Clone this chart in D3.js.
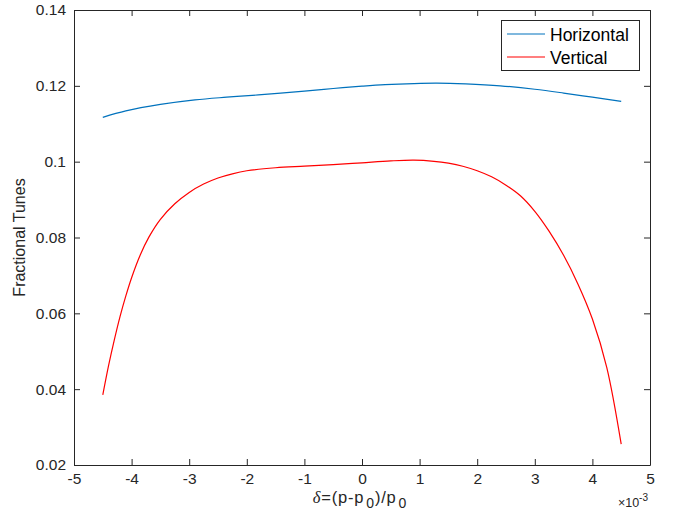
<!DOCTYPE html>
<html>
<head>
<meta charset="utf-8">
<script src="https://cdn.jsdelivr.net/npm/d3@7"></script>
<style>
  html, body { margin: 0; padding: 0; background: #fff; }
  svg { display: block; font-family: "Liberation Sans", Arial, Helvetica, sans-serif; }
</style>
</head>
<body>
<svg id="chart" width="678" height="520"></svg>
<script>
// Momentum deviation delta (units of 1e-3)
const deltaH = [-4.5, -4.1, -3.5, -2.9, -2.35, -1.8, -1.0, -0.5, 0, 0.4, 0.9, 1.3, 1.8, 2.4, 3.0, 3.5, 4.0, 4.5];
const tuneH  = [0.1117, 0.1134, 0.1151, 0.1163, 0.1170, 0.1176, 0.1186, 0.1193, 0.1199, 0.1203, 0.1206, 0.1207, 0.1205, 0.1200, 0.1191, 0.1181, 0.1170, 0.1159];

const deltaV = [-4.5, -4.4, -4.3, -4.2, -4.1, -4.0, -3.85, -3.7, -3.5, -3.25, -3.0, -2.75, -2.5, -2.25, -2.0, -1.5, -1.0, -0.5, 0, 0.5, 0.9, 1.25, 1.5, 1.75, 2.0, 2.25, 2.5, 2.75, 3.0, 3.25, 3.5, 3.75, 4.0, 4.25, 4.5];
const tuneV  = [0.0385, 0.0462, 0.0530, 0.0592, 0.0646, 0.0694, 0.0754, 0.0801, 0.0848, 0.0889, 0.0919, 0.0941, 0.0957, 0.0968, 0.0976, 0.0984, 0.0988, 0.0992, 0.0997, 0.1002, 0.1004, 0.1001, 0.0996, 0.0988, 0.0976, 0.0960, 0.0938, 0.0910, 0.0869, 0.0816, 0.0753, 0.0677, 0.0585, 0.0457, 0.0255];

const seriesNames = ["Horizontal", "Vertical"];
const seriesColors = ["#0072BD", "#FF0000"];

const xTicks = [-5, -4, -3, -2, -1, 0, 1, 2, 3, 4, 5];
const yTicks = [0.02, 0.04, 0.06, 0.08, 0.1, 0.12, 0.14];
const yTickLabels = ["0.02", "0.04", "0.06", "0.08", "0.1", "0.12", "0.14"];

const series = [
  { name: seriesNames[0], color: seriesColors[0], pts: deltaH.map((d, i) => [d, tuneH[i]]) },
  { name: seriesNames[1], color: seriesColors[1], pts: deltaV.map((d, i) => [d, tuneV[i]]) }
];

const svg = d3.select("#chart");
const L = 74, R = 650, T = 10, B = 465;
const axisColor = "#262626";

const x = d3.scaleLinear().domain([-5, 5]).range([L, R]);
const y = d3.scaleLinear().domain([0.02, 0.14]).range([B, T]);

// Data lines
const line = d3.line().x(d => x(d[0])).y(d => y(d[1])).curve(d3.curveCatmullRom.alpha(0.5));
svg.append("g").selectAll("path").data(series).join("path")
  .attr("d", d => line(d.pts))
  .attr("fill", "none")
  .attr("stroke", d => d.color)
  .attr("stroke-width", 1.2);

// Axes (ticks point inward, box on all sides)
const tickLen = 6;
const fmtY = d => yTickLabels[yTicks.indexOf(d)];
const fmtX = d => String(d);

const axBottom = svg.append("g").attr("transform", `translate(0,${B})`)
  .call(d3.axisBottom(x).tickValues(xTicks).tickSizeInner(-tickLen).tickSizeOuter(0).tickPadding(8).tickFormat(fmtX));
const axTop = svg.append("g").attr("transform", `translate(0,${T})`)
  .call(d3.axisTop(x).tickValues(xTicks).tickSizeInner(-tickLen).tickSizeOuter(0).tickFormat(""));
const axLeft = svg.append("g").attr("transform", `translate(${L},0)`)
  .call(d3.axisLeft(y).tickValues(yTicks).tickSizeInner(-tickLen).tickSizeOuter(0).tickPadding(8).tickFormat(fmtY));
const axRight = svg.append("g").attr("transform", `translate(${R},0)`)
  .call(d3.axisRight(y).tickValues(yTicks).tickSizeInner(-tickLen).tickSizeOuter(0).tickFormat(""));

[axBottom, axTop, axLeft, axRight].forEach(g => {
  g.selectAll("path.domain").attr("stroke", axisColor).attr("stroke-width", 1);
  g.selectAll(".tick line").attr("stroke", axisColor).attr("stroke-width", 1);
  g.selectAll("text").attr("fill", axisColor).style("font-size", "15.5px")
    .style("font-family", "'Liberation Sans', Arial, Helvetica, sans-serif");
});

// Exponent note for x axis
const expo = svg.append("text").attr("x", R - 2).attr("y", 507)
  .attr("text-anchor", "end").attr("fill", axisColor)
  .style("font-size", "12.5px");
expo.append("tspan").text("\u00D710");
expo.append("tspan").attr("dy", -6).style("font-size", "10px").text("-3");

// X axis label: delta=(p-p0)/p0
const xl = svg.append("text").attr("x", (L + R) / 2 - 2).attr("y", 503)
  .attr("text-anchor", "middle").attr("fill", axisColor)
  .style("font-size", "16.5px").style("letter-spacing", "0.8px");
xl.append("tspan").style("font-family", "'Liberation Serif', 'Times New Roman', serif")
  .style("font-style", "italic").text("\u03B4");
xl.append("tspan").text("=(p-p");
xl.append("tspan").attr("dx", 2).attr("dy", 5).style("font-size", "14px").text("0");
xl.append("tspan").attr("dy", -5).text(")/p");
xl.append("tspan").attr("dx", 2).attr("dy", 5).style("font-size", "14px").text("0");

// Y axis label
svg.append("text")
  .attr("transform", `translate(25,${(T + B) / 2}) rotate(-90)`)
  .attr("text-anchor", "middle").attr("fill", axisColor)
  .style("font-size", "16px").text("Fractional Tunes");

// Legend
const lg = svg.append("g");
lg.append("rect").attr("x", 501.5).attr("y", 20.5).attr("width", 138).attr("height", 50)
  .attr("fill", "#fff").attr("stroke", axisColor).attr("stroke-width", 1);
series.forEach((s, i) => {
  const yy = 34 + i * 23;
  lg.append("line").attr("x1", 507).attr("x2", 545).attr("y1", yy).attr("y2", yy)
    .attr("stroke", s.color).attr("stroke-width", 1.2);
  lg.append("text").attr("x", 550).attr("y", yy + 7).attr("fill", "#000")
    .style("font-size", "17.5px").text(s.name);
});
</script>
</body>
</html>
